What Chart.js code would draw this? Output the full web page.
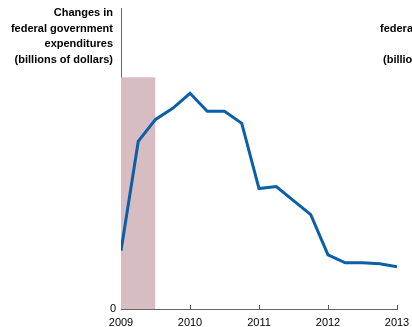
<!DOCTYPE html>
<html>
<head>
<meta charset="utf-8">
<script src="https://cdn.jsdelivr.net/npm/chart.js@4/dist/chart.umd.min.js"></script>
<style>
  html, body { margin: 0; padding: 0; background: #fff; }
  #wrap { width: 412px; height: 327px; }
</style>
</head>
<body>
<div id="wrap"><canvas id="chart" width="412" height="327"></canvas></div>
<script>
// Quarterly points (decimal years) and relative change in expenditures
const quarters = [2009, 2009.25, 2009.5, 2009.75, 2010, 2010.25, 2010.5, 2010.75,
                  2011, 2011.25, 2011.5, 2011.75, 2012, 2012.25, 2012.5, 2012.75, 2013];
const spending = [58, 167, 189, 200, 215, 197, 197, 185, 120, 122, 108, 94, 54, 46, 46, 45, 42];

// Recession band
const recessionX = [2009, 2009.5];
const recessionTop = 231;

const yearTicks = [2009, 2010, 2011, 2012, 2013];
const leftTitle = ["Changes in", "federal government", "expenditures", "(billions of dollars)"];
const rightTitle = ["federal government", "(billions of dollars)"];

const FONT = "'Liberation Sans', Arial, Helvetica, sans-serif";

const overlay = {
    id: "overlay",
    afterDraw(chart) {
        const ctx = chart.ctx;
        const x = chart.scales.x;
        const y = chart.scales.y;
        ctx.save();
        // upward tick marks on x axis
        ctx.strokeStyle = "#555";
        ctx.lineWidth = 1;
        yearTicks.slice(1).forEach(v => {
            const px = Math.round(x.getPixelForValue(v)) + 0.5;
            const py = y.getPixelForValue(0);
            ctx.beginPath();
            ctx.moveTo(px, py);
            ctx.lineTo(px, py - 4);
            ctx.stroke();
        });
        // titles
        ctx.fillStyle = "#000";
        ctx.font = "bold 11px " + FONT;
        ctx.textAlign = "right";
        ctx.textBaseline = "alphabetic";
        leftTitle.forEach((t, i) => ctx.fillText(t, 113, 16 + i * 15.5));
        ctx.textAlign = "left";
        ctx.fillText(rightTitle[0], 380, 31.5);
        ctx.fillText(rightTitle[1], 383, 62.5);
        ctx.restore();
    }
};

new Chart(document.getElementById("chart").getContext("2d"), {
    type: "line",
    data: {
        datasets: [
            {
                data: quarters.map((q, i) => ({ x: q, y: spending[i] })),
                borderColor: "#0b5ea8",
                borderWidth: 3,
                pointRadius: 0,
                fill: false,
                tension: 0,
                order: 0
            },
            {
                data: recessionX.map(q => ({ x: q, y: recessionTop })),
                borderWidth: 0,
                pointRadius: 0,
                backgroundColor: "rgb(215,189,194)",
                fill: "origin",
                order: 1
            }
        ]
    },
    options: {
        responsive: false,
        animation: false,
        layout: { padding: { top: 8, right: 15, left: 0, bottom: 0 } },
        plugins: { legend: { display: false }, tooltip: { enabled: false } },
        scales: {
            x: {
                type: "linear",
                min: 2009,
                max: 2013,
                afterBuildTicks: s => { s.ticks = yearTicks.map(v => ({ value: v })); },
                grid: { display: false, drawTicks: false },
                border: { display: true, color: "#666", width: 1 },
                ticks: {
                    color: "#000",
                    font: { size: 11, family: FONT },
                    padding: 7,
                    maxRotation: 0,
                    callback: v => String(v)
                },
                afterFit: s => { s.height = 18; s.paddingLeft = 0; s.paddingRight = 0; }
            },
            y: {
                min: 0,
                max: 300,
                afterBuildTicks: s => { s.ticks = [{ value: 0 }]; },
                grid: { display: false, drawTicks: false },
                border: { display: true, color: "#666", width: 1 },
                ticks: {
                    color: "#000",
                    font: { size: 11, family: FONT },
                    padding: 5,
                    callback: v => String(v)
                },
                afterFit: s => { s.width = 121; s.paddingTop = 0; s.paddingBottom = 0; }
            }
        }
    },
    plugins: [overlay]
});
</script>
</body>
</html>
